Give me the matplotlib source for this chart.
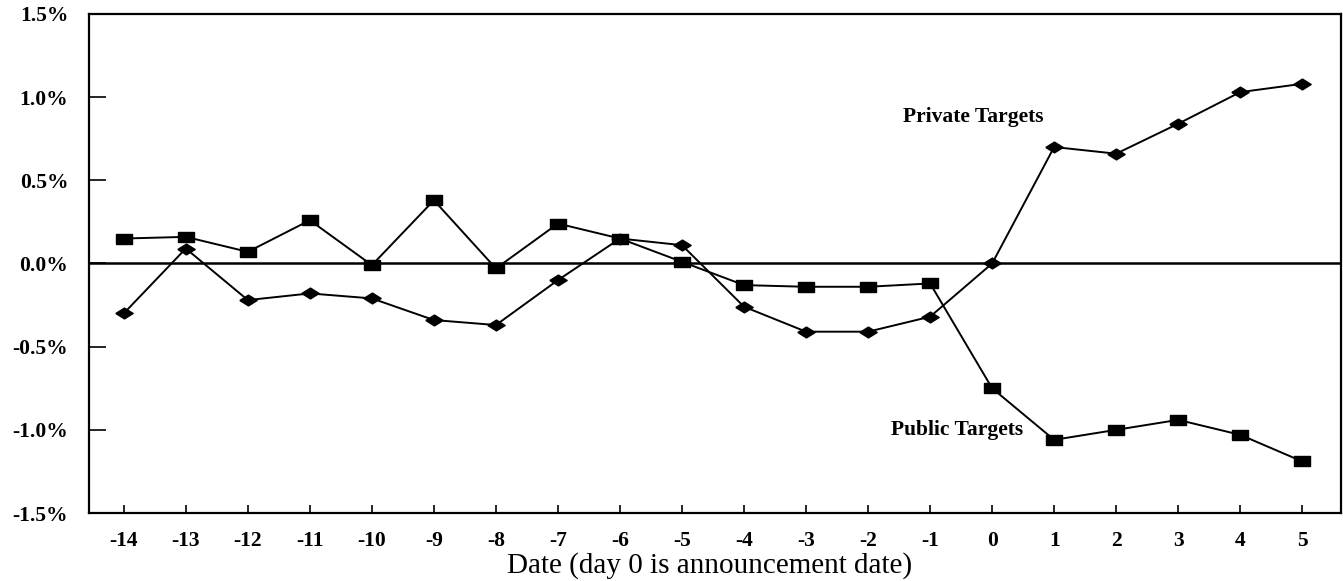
"""
Cumulative abnormal returns around the announcement date,
public targets vs private targets.
"""

import matplotlib
matplotlib.use('Agg')
import matplotlib.pyplot as plt

# Event days relative to the announcement (day 0)
days = [-14, -13, -12, -11, -10, -9, -8, -7, -6, -5,
        -4, -3, -2, -1, 0, 1, 2, 3, 4, 5]

# Returns in percent
public_targets = [0.15, 0.16, 0.07, 0.26, -0.01, 0.38, -0.03, 0.24, 0.15, 0.01,
                  -0.13, -0.14, -0.14, -0.12, -0.75, -1.06, -1.00, -0.94, -1.03, -1.19]
private_targets = [-0.30, 0.09, -0.22, -0.18, -0.21, -0.34, -0.37, -0.10, 0.15, 0.11,
                   -0.26, -0.41, -0.41, -0.32, 0.00, 0.70, 0.66, 0.84, 1.03, 1.08]

yticks = [-1.5, -1.0, -0.5, 0.0, 0.5, 1.0, 1.5]
ytick_labels = ['%.1f%%' % v for v in yticks]

plt.rcParams['font.family'] = ['Liberation Serif', 'DejaVu Serif']

fig = plt.figure(figsize=(13.43, 5.81), dpi=100)
ax = fig.add_axes([0.0663, 0.117, 0.932, 0.859])

# wide flat markers like the printed chart
rect = [(-1.5, -1.0), (1.5, -1.0), (1.5, 1.0), (-1.5, 1.0), (-1.5, -1.0)]
diamond = [(-1.6, 0.0), (0.0, 1.0), (1.6, 0.0), (0.0, -1.0), (-1.6, 0.0)]

ax.axhline(0, color='black', lw=1.8, zorder=1)
ax.plot(days, public_targets, color='black', lw=1.4, marker=rect,
        markersize=11.5, zorder=3)
ax.plot(days, private_targets, color='black', lw=1.4, marker=diamond,
        markersize=12.5, zorder=3)

ax.text(-1.44, 0.88, 'Private Targets', fontsize=15.5, fontweight='bold',
        ha='left', va='center')
ax.text(-1.63, -1.0, 'Public Targets', fontsize=15.5, fontweight='bold',
        ha='left', va='center')

ax.set_xlim(-14.56, 5.62)
ax.set_ylim(-1.5, 1.5)
ax.set_xticks(days)
ax.set_xticklabels([str(d) for d in days], fontsize=15.5, fontweight='bold')
ax.set_yticks(yticks)
ax.set_yticklabels(ytick_labels, fontsize=15.5, fontweight='bold')

ax.tick_params(axis='x', direction='in', length=6, width=1.2, pad=13)
ax.tick_params(axis='y', direction='in', length=12, width=1.2, pad=15)
ax.tick_params(top=False, right=False)

for s in ax.spines.values():
    s.set_linewidth(1.6)

ax.set_xlabel('Date (day 0 is announcement date)', fontsize=21)
ax.xaxis.set_label_coords(0.496, -0.078)

fig.savefig('out.png', dpi=100)
